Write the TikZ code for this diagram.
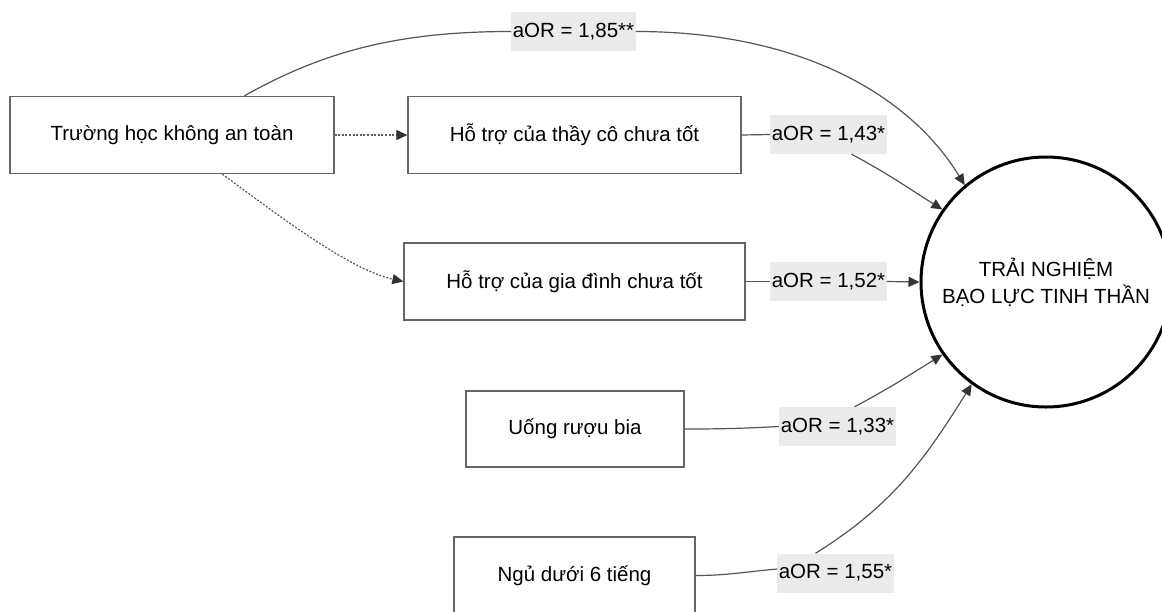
\documentclass[tikz,border=0pt]{standalone}
\usepackage{fontspec}
\setmainfont{Liberation Sans}
\usetikzlibrary{arrows.meta,calc}
\definecolor{lblgray}{HTML}{EBEBEB}
\definecolor{linegray}{HTML}{555555}
\definecolor{boxgray}{HTML}{666666}
\definecolor{tipgray}{HTML}{333333}
\definecolor{dotgray}{HTML}{5A5A5A}
\begin{document}
\begin{tikzpicture}[x=1pt,y=-1pt,
  font=\fontsize{20.5}{27}\selectfont,
  box/.style={draw=boxgray,line width=1.3pt,fill=white,inner sep=0pt,rectangle},
  lbl/.style={fill=lblgray,inner xsep=1.5pt,inner ysep=0pt,minimum height=39pt},
  conn/.style={draw=linegray,line width=1.2pt},
  tip/.style={-{Triangle[length=11pt,width=10pt,color=tipgray]}},
  dots/.style={draw=dotgray,line width=1.2pt,dash pattern=on 2pt off 1.6pt}
]
\clip (0,0) rectangle (1162,611);
\fill[white] (0,0) rectangle (1162,611);
% boxes
\node[box,minimum width=324pt,minimum height=77pt] (A) at (172,135) {Trường học không an toàn};
\node[box,minimum width=333pt,minimum height=77pt] (B) at (574.5,135) {Hỗ trợ của thầy cô chưa tốt};
\node[box,minimum width=341pt,minimum height=77pt] (C) at (574.5,281.5) {Hỗ trợ của gia đình chưa tốt};
\node[box,minimum width=218pt,minimum height=76pt] (D) at (575,429) {Uống rượu bia};
\node[box,minimum width=241pt,minimum height=77pt] (E) at (574.5,575.5) {Ngủ dưới 6 tiếng};
% outcome
\node[circle,draw=black,line width=3pt,minimum size=250pt,inner sep=0pt,align=center] (T) at (1046,282) {TRẢI NGHIỆM\\BẠO LỰC TINH THẦN};
% labels
\node[lbl] (L85) at (573.5,31.5) {aOR = 1,85**};
\node[lbl] (L43) at (828.5,134.5) {aOR = 1,43*};
\node[lbl] (L52) at (828.5,281.5) {aOR = 1,52*};
\node[lbl] (L33) at (837.5,426.5) {aOR = 1,33*};
\node[lbl] (L55) at (835.5,573) {aOR = 1,55*};
% dotted mediating paths
\draw[dots,tip] (A.east) -- (B.west);
\draw[dots,tip] ($(A.south west)+(213,0)$) .. controls +(57,42) and +(-54,-12) .. (C.west);
% direct paths
\draw[conn] ($(A.north west)+(235,0)$) .. controls +(80,-45) and +(-112,0) .. (L85.west);
\draw[conn,tip] (L85.east) .. controls +(165,0) and +(-55,-90) .. (T.130);
\draw[conn] (B.east) -- (L43.west);
\draw[conn,tip] ($(L43.south)+(23,0)$) to[out=-28,in=148] (T.145);
\draw[conn] (C.east) -- (L52.west);
\draw[conn,tip] (L52.east) -- (T.180);
\draw[conn] (D.east) to[out=0,in=183] (L33.west);
\draw[conn,tip] ($(L33.north)+(17,0)$) to[out=28,in=-148] (T.-145);
\draw[conn] (E.east) to[out=0,in=185] ($(L55.west)+(0,-4)$);
\draw[conn,tip] ($(L55.north)+(-20,0)$) to[out=32,in=-122] (T.-126);
\end{tikzpicture}
\end{document}
